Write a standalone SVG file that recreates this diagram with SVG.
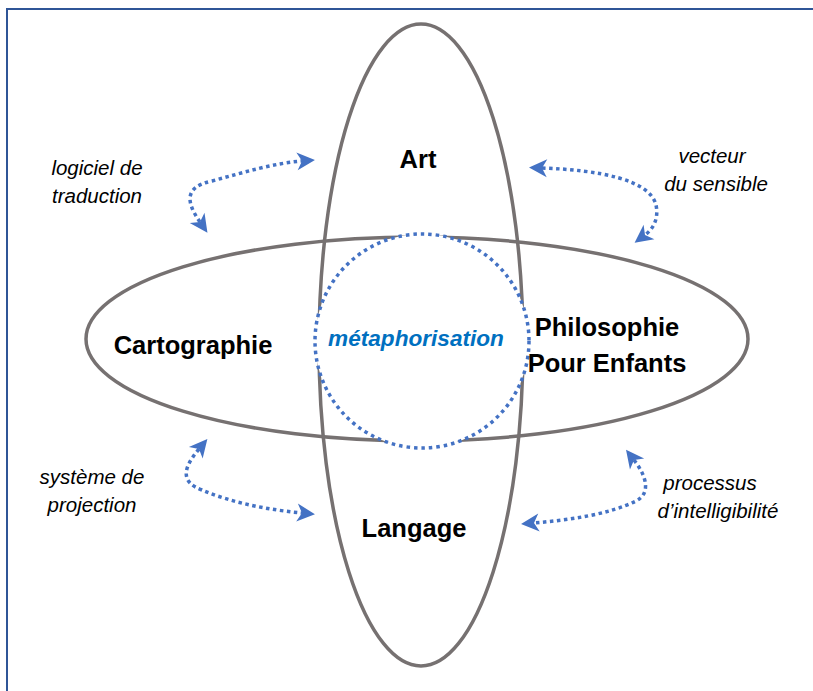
<svg xmlns="http://www.w3.org/2000/svg" width="813" height="691" viewBox="0 0 813 691">
<style>
.ell{fill:none;stroke:#767171;stroke-width:3.5}
.main{font-family:"Liberation Sans",Arial,sans-serif;font-weight:bold;font-size:25.5px;fill:#000;text-anchor:middle}
.lab{font-family:"Liberation Sans",Arial,sans-serif;font-style:italic;font-size:20.5px;fill:#000;text-anchor:middle}
.con{fill:none;stroke:#4472C4;stroke-width:3.5;stroke-dasharray:3.5 3.5;marker-start:url(#ah);marker-end:url(#ah)}
</style>
<defs>
<marker id="ah" markerUnits="userSpaceOnUse" markerWidth="26" markerHeight="22" viewBox="-4 -11 26 22" refX="3" refY="0" orient="auto-start-reverse">
<path d="M16,0 L-2,-9 L3,0 L-2,9 Z" fill="#4472C4"/>
</marker>
</defs>
<rect width="813" height="691" fill="#fff"/>
<path d="M7,691 V9 H813" fill="none" stroke="#2f5597" stroke-width="2"/>
<g id="art"><ellipse class="ell" cx="421" cy="345" rx="102" ry="321"/></g>
<g id="cartographie-ppe"><ellipse class="ell" cx="417" cy="339" rx="331" ry="102"/></g>
<g id="metaphorisation"><circle cx="422" cy="341" r="107" fill="#fff" stroke="#4472C4" stroke-width="3.5" stroke-dasharray="3.5 4"/>
<text x="416" y="346" font-family="Liberation Sans,Arial,sans-serif" font-weight="bold" font-style="italic" font-size="22.6" fill="#0070C0" text-anchor="middle">métaphorisation</text></g>
<g id="n-art"><text class="main" x="418" y="168">Art</text></g>
<g id="n-carto"><text class="main" x="193" y="354">Cartographie</text></g>
<g id="n-ppe"><text class="main" x="607" y="336">Philosophie</text><text class="main" x="607" y="372">Pour Enfants</text></g>
<g id="n-langage"><text class="main" x="414" y="537">Langage</text></g>
<g id="connectors">
<path class="con" d="M200 222 C186 202 184 187 212 181 C245 172 275 163 302 161"/>
<path class="con" d="M542 168 C600 170 650 180 656 205 C659 219 653 229 645 235"/>
<path class="con" d="M199 449 C183 468 180 482 202 490 C232 503 270 510 302 513"/>
<path class="con" d="M634 460 C648 478 650 494 636 501 C610 514 570 520 534 523"/>
</g>
<g id="labels">
<text class="lab" x="97" y="175">logiciel de</text><text class="lab" x="97" y="203">traduction</text>
<text class="lab" x="712" y="163">vecteur</text><text class="lab" x="716" y="191">du sensible</text>
<text class="lab" x="92" y="484">système de</text><text class="lab" x="92" y="512">projection</text>
<text class="lab" x="710" y="490">processus</text><text class="lab" x="718" y="518">d’intelligibilité</text>
</g>
</svg>
